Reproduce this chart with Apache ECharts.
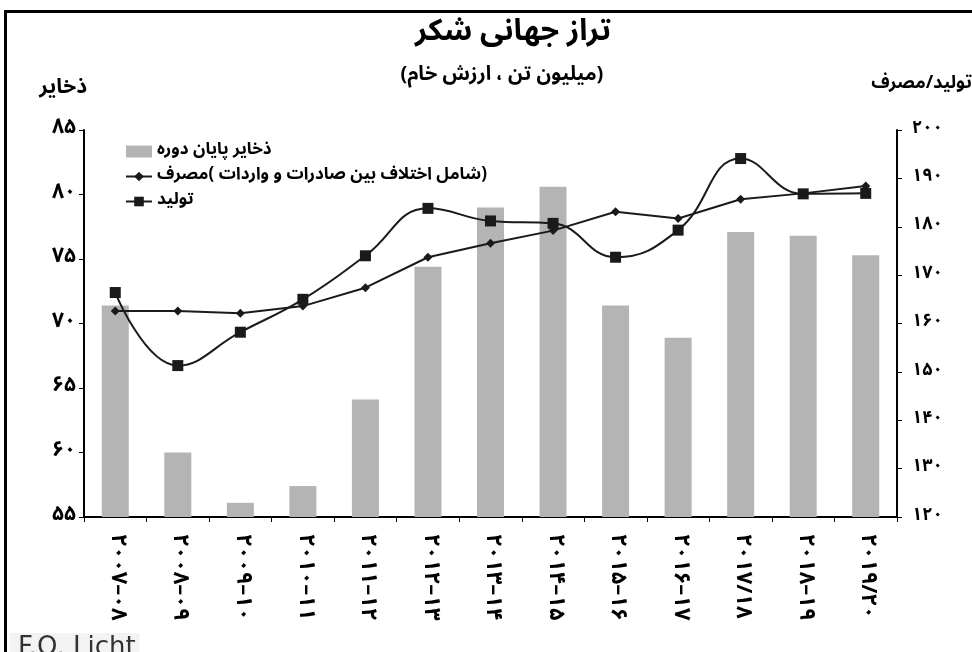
<!DOCTYPE html>
<html>
<head>
<meta charset="utf-8">
<script src="https://cdn.jsdelivr.net/npm/echarts@6/dist/echarts.min.js"></script>
<style>html,body{margin:0;padding:0;background:#fff}#c{width:972px;height:652px}</style>
</head>
<body>
<div id="c"></div>
<script>
// ---- data ----
const seasons = ['۲۰۰۷–۰۸','۲۰۰۸–۰۹','۲۰۰۹–۱۰','۲۰۱۰–۱۱','۲۰۱۱–۱۲','۲۰۱۲–۱۳','۲۰۱۳–۱۴','۲۰۱۴–۱۵','۲۰۱۵–۱۶','۲۰۱۶–۱۷','۲۰۱۷/۱۸','۲۰۱۸–۱۹','۲۰۱۹/۲۰'];
const stocks = [71.4, 60.0, 56.1, 57.4, 64.1, 74.4, 79.0, 80.6, 71.4, 68.9, 77.1, 76.8, 75.3];
const consumption = [162.6, 162.6, 162.1, 163.6, 167.4, 173.7, 176.6, 179.2, 183.1, 181.7, 185.7, 186.9, 188.4];
const production = [166.4, 151.3, 158.2, 165.0, 174.0, 183.8, 181.2, 180.7, 173.7, 179.3, 194.1, 186.8, 186.9];
const leftTicks = {min: 55, max: 85, interval: 5};
const rightTicks = {min: 120, max: 200, interval: 10};

// ---- text (RTL; RLM keeps edge punctuation right-to-left) ----
const RLM = '\u200F';
const LRM = '\u200E';
const rtl = s => RLM + s + RLM;
const titleText = 'تراز جهانی شکر';
const subtitleText = '(میلیون تن ، ارزش خام)';
const stockName = 'ذخایر پایان دوره';
const consName = '(شامل اختلاف بین صادرات و واردات )مصرف';
const prodName = 'تولید';
const leftAxisName = 'ذخایر';
const rightAxisName = 'تولید/مصرف';
const sourceText = 'F.O. Licht';

const toFa = v => String(v).replace(/\d/g, d => '۰۱۲۳۴۵۶۷۸۹'[d]);
const FF = "'Noto Sans Arabic', 'Noto Naskh Arabic', 'DejaVu Sans', sans-serif";

const chart = echarts.init(document.getElementById('c'), null, {renderer: 'canvas'});
chart.setOption({
  animation: false,
  backgroundColor: '#fff',
  title: [
    {text: rtl(titleText), left: 508, top: 15, textAlign: 'center',
     textStyle: {fontFamily: FF, fontSize: 30, fontWeight: 'bold', color: '#000'}},
    {text: rtl(subtitleText), left: 497, top: 62, textAlign: 'center',
     textStyle: {fontFamily: FF, fontSize: 20, fontWeight: 'bold', color: '#000'}}
  ],
  legend: {
    orient: 'vertical', left: 120, top: 138, itemWidth: 26, itemHeight: 12, itemGap: 8, itemTextGap: 10,
    textStyle: {fontFamily: FF, fontSize: 17, fontWeight: 'bold', color: '#000'},
    formatter: name => rtl(name),
    data: [{name: stockName, icon: 'rect'}, {name: consName}, {name: prodName}]
  },
  grid: {left: 84, right: 75, top: 130, bottom: 135, containLabel: false, outerBoundsMode: 'none'},
  xAxis: [
    {type: 'category', data: seasons, position: 'bottom',
     axisLine: {lineStyle: {color: '#000', width: 2}},
     axisTick: {alignWithLabel: true, length: 5, lineStyle: {color: '#000'}},
     axisLabel: {rotate: -90, margin: 17, interval: 0, fontFamily: FF, fontSize: 22, fontWeight: 'bold', color: '#000',
                 formatter: v => v.replace(/[–\/]/g, m => LRM + m + LRM)}},
    {type: 'category', data: seasons, position: 'bottom',
     axisLine: {show: false},
     axisTick: {show: true, length: 5, lineStyle: {color: '#000'}},
     axisLabel: {show: false}}
  ],
  yAxis: [
    {type: 'value', position: 'left', min: leftTicks.min, max: leftTicks.max, interval: leftTicks.interval,
     name: rtl(leftAxisName), nameLocation: 'end', nameGap: 40,
     nameTextStyle: {fontFamily: FF, fontSize: 21, fontWeight: 'bold', color: '#000', align: 'right', verticalAlign: 'middle', padding: [0, -3, 0, 0]},
     axisLine: {show: true, lineStyle: {color: '#000', width: 2}},
     axisTick: {show: true, length: 5, lineStyle: {color: '#000'}},
     splitLine: {show: false},
     axisLabel: {formatter: v => toFa(v), fontFamily: FF, fontSize: 21, fontWeight: 'bold', color: '#000', margin: 8}},
    {type: 'value', position: 'right', min: rightTicks.min, max: rightTicks.max, interval: rightTicks.interval,
     axisLine: {show: true, lineStyle: {color: '#000', width: 2}},
     axisTick: {show: true, length: 5, lineStyle: {color: '#000'}},
     splitLine: {show: false},
     axisLabel: {formatter: v => toFa(v), fontFamily: FF, fontSize: 18, fontWeight: 'bold', color: '#000', margin: 15}}
  ],
  series: [
    {name: stockName, type: 'bar', xAxisIndex: 0, yAxisIndex: 0, data: stocks, barWidth: 27,
     itemStyle: {color: '#b4b4b4'}, z: 1},
    {name: consName, type: 'line', xAxisIndex: 0, yAxisIndex: 1, data: consumption,
     symbol: 'diamond', symbolSize: 9, showAllSymbol: true,
     lineStyle: {color: '#1a1a1a', width: 2}, itemStyle: {color: '#1a1a1a'}, z: 3},
    {name: prodName, type: 'line', xAxisIndex: 0, yAxisIndex: 1, data: production,
     smooth: 0.45, symbol: 'rect', symbolSize: 11, showAllSymbol: true,
     lineStyle: {color: '#1a1a1a', width: 2}, itemStyle: {color: '#1a1a1a'}, z: 4}
  ],
  graphic: [
    {type: 'rect', shape: {x: 5.5, y: 11.5, width: 1000, height: 700}, silent: true, z: -1,
     style: {fill: 'none', stroke: '#000', lineWidth: 3}},
    {type: 'text', right: 0, top: 76, z: 10,
     style: {text: rtl(rightAxisName), fontFamily: FF, fontSize: 18, fontWeight: 'bold', fill: '#000'}},
    {type: 'text', left: 10, top: 633, z: 10,
     style: {text: sourceText, fontFamily: "'DejaVu Sans', sans-serif", fontSize: 26, fill: '#333',
             backgroundColor: '#f3f3f3', padding: [2, 4, 2, 8]}}
  ]
});
</script>
</body>
</html>
